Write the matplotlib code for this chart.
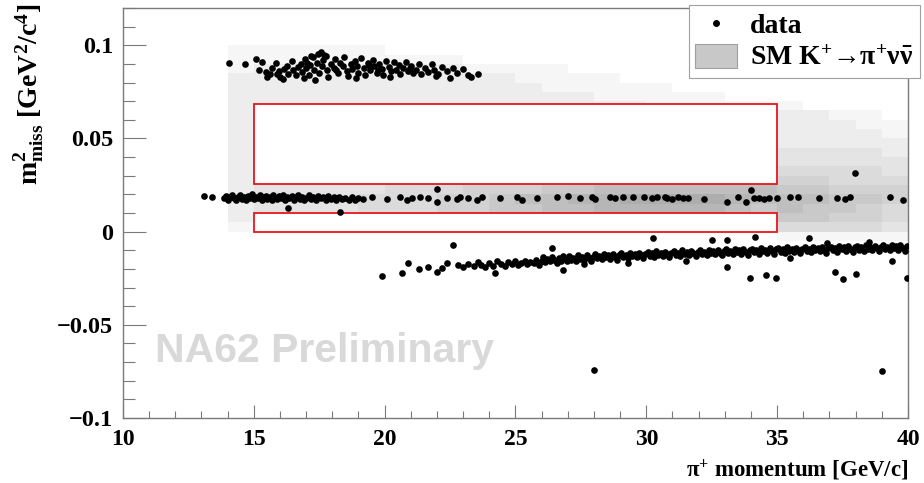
import numpy as np
import matplotlib
matplotlib.use('Agg')
import matplotlib.pyplot as plt
from matplotlib.patches import Rectangle, Patch
from matplotlib.lines import Line2D
from matplotlib.ticker import MultipleLocator, FuncFormatter

# ROOT-like bold Times look
plt.rcParams['font.family'] = ['Liberation Serif', 'DejaVu Serif']
plt.rcParams['font.weight'] = 'bold'
plt.rcParams['mathtext.fontset'] = 'custom'
plt.rcParams['mathtext.rm'] = 'Liberation Serif:bold'
plt.rcParams['mathtext.it'] = 'Liberation Serif:italic:bold'
plt.rcParams['mathtext.bf'] = 'Liberation Serif:bold'

# SM K+ -> pi+ nu nubar expectation, 1 GeV x bins (14..40), 0.005 bins in m2miss.
# rows from the top (0.095-0.100) down to (-0.005-0.000), one digit = grey level;
# groups: p=14 | p=15..34 | p=35..39
sm_xedges = np.arange(14, 41, 1)
sm_yedges = np.linspace(-0.005, 0.1, 22)
sm_levels = [
    "1 11111000000000000000 00000",
    "1 11111111000000000000 00000",
    "1 22222222111100000000 00000",
    "2 22222222221111000000 00000",
    "2 22222222222111110000 00000",
    "2 22222222222221111100 00000",
    "2 22222222222222211111 10000",
    "2 22222222222222222222 22110",
    "2 22222222222222222222 22211",
    "2 22222222222222222222 22221",
    "2 22222222222222222222 22222",
    "2 22222222222222222222 33332",
    "2 22222222222222222222 33333",
    "2 33333333333333333333 44443",
    "2 33333344444455555555 55444",
    "2 33333444555667777777 66555",
    "2 33334445567788999987 77665",
    "2 33334445566778888876 76654",
    "2 33333344445566666665 66554",
    "1 22222233333333444443 44443",
    "0 00000000000000000000 11111",
]

# signal regions (p range, m2miss range)
region1 = (15, 35, 0.0, 0.0102)
region2 = (15, 35, 0.0258, 0.0683)

# data: upper band (K+ -> pi+ pi+ pi- like)
upper_p = [14.05, 14.65, 15.1, 15.2, 15.3, 15.45, 15.6, 15.7, 15.85, 15.95, 16.0, 16.15, 16.25, 16.3,
           16.45, 16.5, 16.6, 16.7, 16.8, 16.85, 16.95, 17.0, 17.1, 17.15, 17.25, 17.3, 17.4, 17.45,
           17.5, 17.6, 17.65, 17.75, 17.8, 17.85, 17.95, 18.05, 18.1, 18.2, 18.3, 18.4, 18.45, 18.55,
           18.6, 18.7, 18.75, 18.85, 18.95, 19.0, 19.1, 19.2, 19.25, 19.35, 19.45, 19.55, 19.6, 19.7,
           19.8, 19.9, 19.95, 20.05, 20.15, 20.25, 20.35, 20.45, 20.55, 20.6, 20.7, 20.8, 20.9, 21.0,
           21.1, 21.2, 21.3, 21.4, 21.55, 21.65, 21.8, 21.9, 22.05, 22.2, 22.4, 22.6, 22.75, 23.0,
           23.2, 23.3, 23.55, 15.5, 16.1, 16.9, 17.35, 18.9, 20.2, 21.95, 22.5, 15.9, 17.05, 18.15,
           19.4, 19.75, 20.95, 17.55, 17.7, 17.2]
upper_m2 = [0.0903, 0.0898, 0.0925, 0.0870, 0.0912, 0.0858, 0.0845, 0.0880, 0.0905, 0.0862, 0.0830,
            0.0872, 0.0890, 0.0848, 0.0915, 0.0868, 0.0840, 0.0885, 0.0900, 0.0858, 0.0925, 0.0876,
            0.0843, 0.0895, 0.0935, 0.0870, 0.0905, 0.0955, 0.0852, 0.0888, 0.0920, 0.0945, 0.0865,
            0.0832, 0.0900, 0.0878, 0.0925, 0.0850, 0.0905, 0.0888, 0.0938, 0.0862, 0.0835, 0.0900,
            0.0875, 0.0918, 0.0890, 0.0850, 0.0930, 0.0880, 0.0842, 0.0905, 0.0868, 0.0920, 0.0888,
            0.0850, 0.0900, 0.0875, 0.0838, 0.0915, 0.0885, 0.0860, 0.0908, 0.0870, 0.0892, 0.0845,
            0.0878, 0.0912, 0.0862, 0.0890, 0.0852, 0.0870, 0.0898, 0.0845, 0.0880, 0.0858, 0.0902,
            0.0870, 0.0848, 0.0885, 0.0862, 0.0880, 0.0850, 0.0872, 0.0838, 0.0828, 0.0848, 0.0832,
            0.0818, 0.0822, 0.0812, 0.0825, 0.0830, 0.0835, 0.0822, 0.0848, 0.0905, 0.0868, 0.0895,
            0.0870, 0.0880, 0.0962, 0.0950, 0.0945]

# data: middle band (K+ -> pi+ pi0 like)
mid_p = [13.08, 13.42, 13.85, 13.95, 14.02, 14.1, 14.18, 14.25, 14.32, 14.4, 14.48, 14.55, 14.62,
         14.7, 14.78, 14.85, 14.93, 15.0, 15.08, 15.15, 15.23, 15.3, 15.38, 15.45, 15.52, 15.6,
         15.68, 15.75, 15.82, 15.9, 15.98, 16.05, 16.12, 16.2, 16.28, 16.3, 16.36, 16.45, 16.52,
         16.6, 16.68, 16.75, 16.85, 16.93, 17.0, 17.1, 17.18, 17.28, 17.36, 17.45, 17.55, 17.65,
         17.75, 17.85, 17.95, 18.05, 18.15, 18.3, 18.25, 18.38, 18.5, 18.62, 18.75, 18.88, 19.0,
         19.17, 19.5, 20.09, 20.58, 20.85, 21.04, 21.35, 21.66, 22.0, 22.0, 22.38, 22.76, 22.88,
         23.18, 23.53, 23.72, 24.4, 25.06, 25.25, 25.82, 26.57, 27.0, 27.46, 27.92, 28.03, 28.61,
         28.8, 29.1, 29.5, 29.9, 30.2, 30.4, 30.7, 30.8, 31.0, 31.2, 31.4, 31.6, 32.2, 33.1, 33.5,
         33.8, 34.0, 34.1, 34.3, 34.5, 34.7, 35.0, 35.5, 35.8, 36.6, 37.3, 37.6, 37.8, 37.97, 39.3,
         39.8]
mid_m2 = [0.0192, 0.0188, 0.0178, 0.0190, 0.0172, 0.0185, 0.0196, 0.0180, 0.0170, 0.0188, 0.0198,
          0.0177, 0.0186, 0.0168, 0.0192, 0.0181, 0.0200, 0.0174, 0.0188, 0.0178, 0.0195, 0.0170,
          0.0185, 0.0192, 0.0176, 0.0188, 0.0168, 0.0198, 0.0182, 0.0174, 0.0191, 0.0180, 0.0195,
          0.0172, 0.0186, 0.0129, 0.0178, 0.0192, 0.0170, 0.0185, 0.0198, 0.0176, 0.0188, 0.0168,
          0.0182, 0.0194, 0.0175, 0.0187, 0.0170, 0.0190, 0.0178, 0.0184, 0.0168, 0.0192, 0.0176,
          0.0185, 0.0170, 0.0108, 0.0188, 0.0174, 0.0182, 0.0168, 0.0186, 0.0172, 0.0180, 0.0176,
          0.0184, 0.0175, 0.0185, 0.0172, 0.0180, 0.0188, 0.0178, 0.0229, 0.0158, 0.0182, 0.0176,
          0.0186, 0.0180, 0.0170, 0.0184, 0.0178, 0.0185, 0.0172, 0.0180, 0.0185, 0.0190, 0.0178,
          0.0186, 0.0175, 0.0188, 0.0182, 0.0185, 0.0186, 0.0187, 0.0178, 0.0184, 0.0188, 0.0180,
          0.0176, 0.0185, 0.0180, 0.0183, 0.0177, 0.0160, 0.0185, 0.0158, 0.0226, 0.0178, 0.0180,
          0.0176, 0.0182, 0.0183, 0.0185, 0.0184, 0.0180, 0.0182, 0.0176, 0.0185, 0.0317, 0.0184,
          0.0172]

# data: lower band (K+ -> mu+ nu like) plus scattered events
low_p = [19.9, 20.66, 20.9, 21.3, 21.65, 22.0, 22.2, 22.4, 22.6, 22.8, 23.0, 23.2, 23.4, 23.55,
         23.7, 23.85, 24.0, 24.2, 24.15, 24.3, 24.45, 24.6, 24.7, 24.85, 25.0, 25.1, 25.2, 25.35,
         25.45, 25.55, 25.7, 25.8, 25.9, 26.0,
         26.05, 26.12, 26.22, 26.31, 26.40, 26.48, 26.57, 26.66, 26.74, 26.83, 26.91, 26.97,
         27.04, 27.13, 27.21, 27.30, 27.38, 27.46, 27.55, 27.63, 27.72, 27.80, 27.88, 27.96,
         28.05, 28.13, 28.21, 28.30, 28.38, 28.47, 28.55, 28.63, 28.72, 28.80, 28.89, 28.97,
         29.04, 29.12, 29.21, 29.29, 29.38, 29.46, 29.55, 29.63, 29.71, 29.80, 29.88, 29.96,
         30.05, 30.13, 30.21, 30.30, 30.38, 30.46, 30.55, 30.63, 30.72, 30.80, 30.88, 30.96,
         31.04, 31.13, 31.21, 31.30, 31.38, 31.46, 31.55, 31.63, 31.71, 31.80, 31.88, 31.96,
         32.05, 32.13, 32.21, 32.30, 32.38, 32.46, 32.55, 32.63, 32.72, 32.80, 32.88, 32.96,
         33.04, 33.13, 33.21, 33.30, 33.38, 33.46, 33.55, 33.63, 33.71, 33.80, 33.88, 33.96,
         34.05, 34.13, 34.21, 34.30, 34.38, 34.46, 34.55, 34.63, 34.72, 34.80, 34.88, 34.96,
         35.04, 35.13, 35.21, 35.30, 35.38, 35.46, 35.55, 35.63, 35.71, 35.80, 35.88, 35.96,
         36.05, 36.13, 36.21, 36.30, 36.38, 36.46, 36.55, 36.63, 36.72, 36.80, 36.88, 36.96,
         37.04, 37.13, 37.21, 37.30, 37.38, 37.46, 37.55, 37.63, 37.71, 37.80, 37.88, 37.96,
         38.05, 38.13, 38.21, 38.30, 38.38, 38.46, 38.55, 38.63, 38.72, 38.80, 38.88, 38.96,
         39.04, 39.13, 39.21, 39.30, 39.38, 39.46, 39.55, 39.63, 39.71, 39.80, 39.88, 39.96,
         30.25, 32.5, 33.08, 34.15, 36.2, 33.08, 33.96, 34.57, 37.2, 37.5, 38.0, 39.4, 39.95,
         28.0, 39.0, 26.4, 26.8, 29.3, 31.5, 35.5, 36.9, 38.5, 27.6, 34.95]
low_m2 = [-0.0240, -0.0220, -0.0167, -0.0200, -0.0188, -0.0215, -0.0195, -0.0167, -0.0070, -0.0177,
          -0.0190, -0.0172, -0.0182, -0.0165, -0.0178, -0.0190, -0.0170, -0.0220, -0.0182, -0.0160,
          -0.0175, -0.0185, -0.0165, -0.0172, -0.0158, -0.0180, -0.0168, -0.0155, -0.0175, -0.0162,
          -0.0170, -0.0150, -0.0180, -0.0160,
          -0.0138, -0.0162, -0.0147, -0.0158, -0.0135, -0.0152, -0.0166, -0.0141, -0.0155, -0.0133, -0.0149, -0.0160,
          -0.0131, -0.0150, -0.0139, -0.0156, -0.0128, -0.0145, -0.0136, -0.0152, -0.0126, -0.0143, -0.0157, -0.0134,
          -0.0122, -0.0141, -0.0130, -0.0148, -0.0119, -0.0137, -0.0127, -0.0145, -0.0121, -0.0134, -0.0150, -0.0126,
          -0.0116, -0.0135, -0.0124, -0.0141, -0.0112, -0.0130, -0.0120, -0.0138, -0.0114, -0.0128, -0.0143, -0.0119,
          -0.0110, -0.0129, -0.0117, -0.0136, -0.0106, -0.0124, -0.0114, -0.0132, -0.0108, -0.0122, -0.0138, -0.0113,
          -0.0104, -0.0124, -0.0112, -0.0131, -0.0101, -0.0119, -0.0109, -0.0127, -0.0103, -0.0117, -0.0133, -0.0108,
          -0.0099, -0.0119, -0.0107, -0.0126, -0.0096, -0.0114, -0.0104, -0.0122, -0.0098, -0.0112, -0.0128, -0.0103,
          -0.0095, -0.0115, -0.0103, -0.0122, -0.0092, -0.0110, -0.0100, -0.0118, -0.0094, -0.0108, -0.0124, -0.0099,
          -0.0091, -0.0111, -0.0099, -0.0118, -0.0088, -0.0106, -0.0096, -0.0114, -0.0090, -0.0104, -0.0120, -0.0095,
          -0.0087, -0.0107, -0.0095, -0.0114, -0.0084, -0.0102, -0.0092, -0.0110, -0.0086, -0.0100, -0.0116, -0.0091,
          -0.0083, -0.0103, -0.0091, -0.0110, -0.0080, -0.0098, -0.0088, -0.0106, -0.0082, -0.0096, -0.0112, -0.0087,
          -0.0080, -0.0100, -0.0088, -0.0107, -0.0077, -0.0095, -0.0085, -0.0103, -0.0079, -0.0093, -0.0109, -0.0084,
          -0.0077, -0.0097, -0.0085, -0.0104, -0.0074, -0.0092, -0.0082, -0.0100, -0.0076, -0.0090, -0.0106, -0.0081,
          -0.0074, -0.0094, -0.0082, -0.0101, -0.0071, -0.0089, -0.0079, -0.0097, -0.0073, -0.0087, -0.0103, -0.0078,
          -0.0032, -0.0043, -0.0043, -0.0027, -0.0032, -0.0188, -0.0247, -0.0230, -0.0215, -0.0253, -0.0226,
          -0.0156, -0.0250, -0.0740, -0.0750, -0.0086, -0.0204, -0.0170, -0.0155, -0.0140, -0.0060, -0.0055,
          -0.0175, -0.0247]

fig = plt.figure(figsize=(9.24, 4.83), dpi=100)
ax = fig.add_axes([123 / 924, 1 - 418 / 483, 785 / 924, 410 / 483])

# SM expectation as a grey 2D histogram
sm_grid = np.array([[int(c) for c in row.replace(' ', '')] for row in sm_levels[::-1]], dtype=float)
sm_grid = np.ma.masked_equal(sm_grid, 0)
ax.pcolormesh(sm_xedges, sm_yedges, sm_grid, cmap='gray_r', vmin=0, vmax=28, zorder=1)

# signal regions: white boxes with red border
for p0, p1, m0, m1 in (region1, region2):
    ax.add_patch(Rectangle((p0, m0), p1 - p0, m1 - m0, facecolor='white',
                           edgecolor='#e8151b', linewidth=1.3, zorder=2))

all_p = upper_p + mid_p + low_p
all_m2 = upper_m2 + mid_m2 + low_m2
ax.plot(all_p, all_m2, 'o', color='black', markersize=4.8, markeredgewidth=0, zorder=3)

ax.set_xlim(10, 40)
ax.set_ylim(-0.1, 0.12)

ax.xaxis.set_major_locator(MultipleLocator(5))
ax.xaxis.set_minor_locator(MultipleLocator(1))
ax.yaxis.set_major_locator(MultipleLocator(0.05))
ax.yaxis.set_minor_locator(MultipleLocator(0.01))
ax.yaxis.set_major_formatter(FuncFormatter(lambda v, pos: ('%g' % round(v, 3)).replace('-', '\u2212')))
ax.xaxis.set_major_formatter(FuncFormatter(lambda v, pos: '%d' % round(v)))

tick_col = '#7a7a7a'
ax.tick_params(axis='x', which='major', direction='in', length=9.4, width=0.8, color=tick_col,
               labelsize=17, pad=8)
ax.tick_params(axis='x', which='minor', direction='in', length=4.7, width=0.8, color=tick_col)
ax.tick_params(axis='y', which='major', direction='in', length=16.5, width=0.8, color=tick_col,
               labelsize=17.5, pad=7)
ax.tick_params(axis='y', which='minor', direction='in', length=8.5, width=0.8, color=tick_col)
for s in ax.spines.values():
    s.set_color(tick_col)
    s.set_linewidth(1.0)

# axis titles, ROOT style (aligned to the axis end)
fig.text(908 / 924, 1 - 470 / 483, '\u03c0$^{+}$ momentum [GeV/c]', ha='right', va='center',
         fontsize=16.5, fontweight='bold')
fig.text(30 / 924, 1 - 4 / 483, r'm$^{2}_{\rm miss}$ [GeV$^{2}$/c$^{4}$]', rotation=90,
         ha='center', va='top', fontsize=20, fontweight='bold')

fig.text(155 / 924, 1 - 351 / 483, 'NA62 Preliminary', family='Liberation Sans', fontweight='bold',
         fontsize=29.5, color='#d9d9d9', ha='left', va='center')

handles = [Line2D([], [], marker='o', linestyle='none', color='black', markersize=4),
           Patch(facecolor='#c8c8c8', edgecolor='#a0a0a0', linewidth=0.8)]
labels = ['data', 'SM K$^{+}$\u2192\u03c0$^{+}$\u03bd$\\bar{\\mathrm{\\nu}}$']
leg = fig.legend(handles, labels, loc='upper right', bbox_to_anchor=(920 / 924, 1 - 5 / 483),
                 frameon=True, fancybox=False, framealpha=1, edgecolor='#a0a0a0',
                 prop={'size': 20, 'weight': 'bold'}, handlelength=1.5, handleheight=0.95,
                 borderpad=0.25, labelspacing=0.15, handletextpad=0.45, borderaxespad=0)
leg.get_frame().set_linewidth(0.8)

fig.savefig('out.png', dpi=100)
